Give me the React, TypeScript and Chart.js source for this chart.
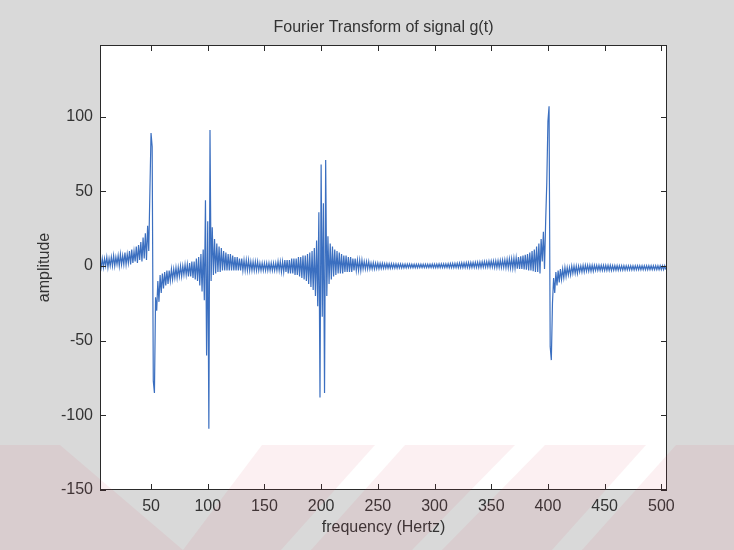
import React, { useEffect, useRef } from 'react';
import { Chart, registerables } from 'chart.js';

Chart.register(...registerables);

// ---- data ----
const startFrequency = 5; // Hz of the first sample
const frequencyStep = 1; // Hz between samples

// amplitude at 5, 6, 7 ... 504 Hz (ten samples per row)
const amplitude: number[] = [
  4, -1, 5, -1, 5, 0, 6, -1, 5, 0,
  6, 0, 7, 0, 6, 1, 7, 0, 8, 1,
  7, 1, 9, 1, 8, 2, 10, 1, 11, 2,
  10, 3, 13, 2, 14, 4, 16, 3, 19, 5,
  22, 4, 27, 10, 50, 89, 80, -77, -85, -21,
  -30, -10, -24, -6, -18, -5, -15, -4, -13, -3,
  -12, -3, -10, -2, -9, -2, -8, -1, -8, -1,
  -7, 0, -7, 0, -6, 1, -6, 1, -7, 2,
  -7, 3, -8, 3, -9, 5, -10, 6, -13, 8,
  -17, 11, -23, 44, -60, 30, -109, 91, -10, 26,
  -6, 18, -5, 15, -4, 13, -4, 12, -3, 10,
  -3, 9, -3, 8, -3, 8, -3, 7, -3, 6,
  -3, 6, -3, 5, -3, 5, -3, 4, -3, 4,
  -3, 4, -3, 3, -3, 3, -3, 3, -3, 3,
  -3, 2, -3, 2, -3, 2, -3, 2, -3, 2,
  -3, 2, -3, 2, -3, 2, -3, 3, -3, 3,
  -4, 3, -4, 4, -4, 4, -5, 4, -5, 5,
  -5, 5, -6, 5, -6, 6, -7, 6, -8, 7,
  -9, 7, -10, 8, -12, 9, -14, 10, -16, 12,
  -20, 17, -27, 36, -88, 68, -34, 42, -85, 71,
  -20, 20, -12, 15, -9, 13, -7, 11, -6, 10,
  -5, 9, -5, 8, -5, 7, -4, 7, -4, 6,
  -4, 6, -4, 5, -3, 5, -3, 4, -3, 4,
  -3, 4, -2, 3, -2, 3, -2, 3, -2, 2,
  -2, 2.2, -2, 2, -1.8, 2, -1.8, 1.8, -1.6, 1.8,
  -1.6, 1.6, -1.5, 1.6, -1.5, 1.5, -1.5, 1.5, -1.4, 1.5,
  -1.4, 1.4, -1.4, 1.4, -1.3, 1.4, -1.3, 1.3, -1.3, 1.3,
  -1.3, 1.3, -1.2, 1.3, -1.2, 1.2, -1.2, 1.2, -1.2, 1.2,
  -1.2, 1.2, -1.1, 1.2, -1.1, 1.2, -1.1, 1.2, -1.1, 1.2,
  -1.1, 1.2, -1.1, 1.3, -1.1, 1.3, -1.1, 1.3, -1.1, 1.4,
  -1.1, 1.4, -1.1, 1.5, -1.1, 1.5, -1.1, 1.6, -1.1, 1.7,
  -1.1, 1.8, -1.1, 1.8, -1.1, 1.9, -1.1, 2, -1.1, 2.1,
  -1.1, 2.1, -1.1, 2.2, -1.1, 2.3, -1.1, 2.3, -1, 2.4,
  -1, 2.5, -1, 2.6, -1, 2.7, -1, 2.8, -0.8, 3,
  -0.8, 3, -0.8, 3.2, -0.8, 3.3, -0.8, 3.4, -1, 3.5,
  -1, 3.6, -1, 3.8, -1, 4, -1, 4.2, -1.2, 4.5,
  -1.2, 4.8, -1.3, 5, -1.5, 5.3, -1.5, 5.6, -1.8, 6,
  -2, 6.5, -2, 7, -2.3, 7.5, -2.5, 8, -3, 9,
  -3, 10, -3.5, 11, -4, 13, -4, 15, -5, 18,
  3, 23, -2, 30, 56, 97, 107, -54, -63, -25,
  -8, -18, -4, -13, -3, -11, -2, -9, -2, -8,
  -1, -7, -1, -6, -1, -6, 0, -5, 0, -5,
  0, -5, 0, -4, 0, -4, 0.5, -4, 0.5, -3.5,
  0.5, -3.5, 0.5, -3.5, 0.5, -3.5, 0.5, -3, 0.5, -3,
  0.5, -3, 0.5, -3, 0.5, -3, 0.5, -3, 0.5, -3,
  0.5, -3, 0.3, -2.8, 0.3, -2.8, 0.3, -2.8, 0.2, -2.7,
  0.2, -2.7, 0.2, -2.7, 0.2, -2.6, 0.2, -2.6, 0.2, -2.6,
  0.2, -2.6, 0.2, -2.5, 0.2, -2.5, 0.2, -2.5, 0.2, -2.5,
  0.2, -2.5, 0.2, -2.5, 0.2, -2.4, 0.2, -2.4, 0.2, -2.4,
  0.2, -2.4, 0.2, -2.4, 0.2, -2.4, 0.2, -2.4, 0.2, -2.4,
];

const xTickValues = [50, 100, 150, 200, 250, 300, 350, 400, 450, 500];
const yTickValues = [-150, -100, -50, 0, 50, 100];
const xMin = 5;
const xMax = 505;
const yMin = -150;
const yMax = 148;

const titleText = 'Fourier Transform of signal g(t)';
const xLabel = 'frequency (Hertz)';
const yLabel = 'amplitude';

// ---- styling ----
const FONT_FAMILY = "'Liberation Sans', Arial, sans-serif";
const FONT_SIZE = 16;
const TEXT_COLOR = '#333333';
const LINE_COLOR = '#3b6fc0';
const FIG_BG = '#d9d9d9';
const TICK_LEN = 6;

const figurePlugin = {
  id: 'matlabFigure',
  beforeDraw(chart: any) {
    const { ctx, chartArea: a, width, height } = chart;
    ctx.save();
    ctx.fillStyle = FIG_BG;
    ctx.fillRect(0, 0, width, height);
    ctx.fillStyle = '#ffffff';
    ctx.fillRect(a.left, a.top, a.right - a.left, a.bottom - a.top);
    // title centred over the axes box
    ctx.fillStyle = TEXT_COLOR;
    ctx.font = `${FONT_SIZE}px ${FONT_FAMILY}`;
    ctx.textAlign = 'center';
    ctx.textBaseline = 'middle';
    ctx.fillText(titleText, (a.left + a.right) / 2, 28);
    ctx.restore();
  },
  afterDatasetsDraw(chart: any) {
    const { ctx, chartArea: a, scales } = chart;
    ctx.save();
    ctx.strokeStyle = '#2a2a2a';
    ctx.lineWidth = 1;
    ctx.strokeRect(Math.round(a.left) + 0.5, Math.round(a.top) + 0.5, Math.round(a.right - a.left) - 1, Math.round(a.bottom - a.top) - 1);
    ctx.beginPath();
    for (const v of xTickValues) {
      const px = Math.round(scales.x.getPixelForValue(v)) + 0.5;
      ctx.moveTo(px, a.bottom);
      ctx.lineTo(px, a.bottom - TICK_LEN);
      ctx.moveTo(px, a.top);
      ctx.lineTo(px, a.top + TICK_LEN);
    }
    for (const v of yTickValues) {
      const py = Math.round(scales.y.getPixelForValue(v)) + 0.5;
      ctx.moveTo(a.left, py);
      ctx.lineTo(a.left + TICK_LEN, py);
      ctx.moveTo(a.right, py);
      ctx.lineTo(a.right - TICK_LEN, py);
    }
    ctx.stroke();
    ctx.restore();
  },
  afterDraw(chart: any) {
    // faint diagonal watermark band along the bottom
    const { ctx } = chart;
    const polys: number[][][] = [
      [[0, 445], [60, 445], [183, 550], [0, 550]],
      [[262, 445], [375, 445], [281, 550], [183, 550]],
      [[405, 445], [515, 445], [412, 550], [311, 550]],
      [[545, 445], [646, 445], [552, 550], [442, 550]],
      [[676, 445], [734, 445], [734, 550], [582, 550]],
    ];
    ctx.save();
    ctx.fillStyle = 'rgba(215, 70, 95, 0.08)';
    for (const p of polys) {
      ctx.beginPath();
      ctx.moveTo(p[0][0], p[0][1]);
      for (let i = 1; i < p.length; i++) ctx.lineTo(p[i][0], p[i][1]);
      ctx.closePath();
      ctx.fill();
    }
    ctx.restore();
  },
};

export default function App() {
  const canvasRef = useRef<HTMLCanvasElement | null>(null);

  useEffect(() => {
    const canvas = canvasRef.current;
    if (!canvas) return;
    const points = amplitude.map((y, i) => ({ x: startFrequency + i * frequencyStep, y }));
    const font = { family: FONT_FAMILY, size: FONT_SIZE };

    const chart = new Chart(canvas, {
      type: 'line',
      data: {
        datasets: [
          {
            data: points,
            borderColor: LINE_COLOR,
            borderWidth: 1.2,
            pointRadius: 0,
            tension: 0,
            fill: false,
          },
        ],
      },
      options: {
        animation: false,
        responsive: false,
        maintainAspectRatio: false,
        devicePixelRatio: 1,
        layout: { padding: { left: 0, right: 67, top: 45, bottom: 0 } },
        plugins: {
          legend: { display: false },
          tooltip: { enabled: false },
          title: { display: false },
        },
        scales: {
          x: {
            type: 'linear',
            min: xMin,
            max: xMax,
            afterBuildTicks: (s: any) => {
              s.ticks = xTickValues.map((v) => ({ value: v }));
            },
            afterFit: (s: any) => {
              s.height = 60;
            },
            grid: { display: false, drawTicks: false },
            border: { display: false },
            ticks: {
              color: TEXT_COLOR,
              font,
              padding: 7,
              maxRotation: 0,
              autoSkip: false,
              callback: (v: any) => String(v),
            },
            title: {
              display: true,
              text: xLabel,
              color: TEXT_COLOR,
              font,
              padding: { top: 0, bottom: 13 },
            },
          },
          y: {
            type: 'linear',
            min: yMin,
            max: yMax,
            afterBuildTicks: (s: any) => {
              s.ticks = yTickValues.map((v) => ({ value: v }));
            },
            afterFit: (s: any) => {
              s.width = 100;
            },
            grid: { display: false, drawTicks: false },
            border: { display: false },
            ticks: {
              color: TEXT_COLOR,
              font,
              padding: 7,
              autoSkip: false,
              callback: (v: any) => String(v),
            },
            title: {
              display: true,
              text: yLabel,
              color: TEXT_COLOR,
              font,
              padding: { top: 35, bottom: 0 },
            },
          },
        },
      },
      plugins: [figurePlugin],
    } as any);

    return () => chart.destroy();
  }, []);

  return (
    <div style={{ position: 'fixed', left: 0, top: 0, width: 734, height: 550 }}>
      <canvas ref={canvasRef} width={734} height={550} style={{ width: 734, height: 550, display: 'block' }} />
    </div>
  );
}
